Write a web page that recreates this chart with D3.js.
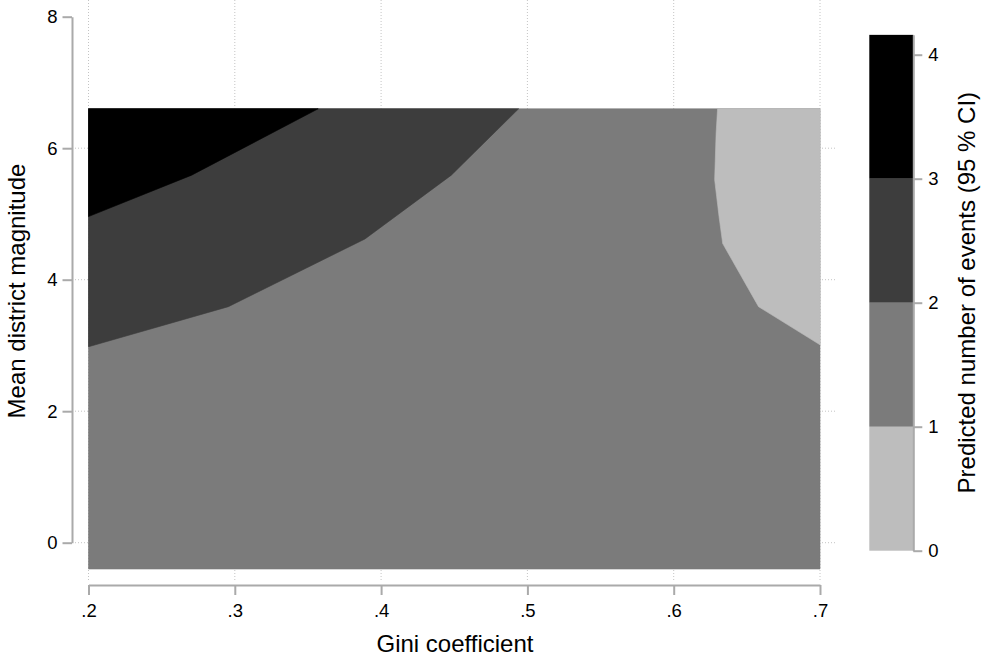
<!DOCTYPE html>
<html><head><meta charset="utf-8">
<script src="https://cdn.jsdelivr.net/npm/d3@7"></script>
<style>
body{margin:0;background:#fff}
text{font-family:"Liberation Sans",Arial,Helvetica,sans-serif;fill:#000}
</style>
</head><body>
<svg id="c" width="983" height="657"></svg>
<script>
// ---- data ----
const xTicks = [0.2, 0.3, 0.4, 0.5, 0.6, 0.7];
const xTickLabels = [".2", ".3", ".4", ".5", ".6", ".7"];
const yTicks = [0, 2, 4, 6, 8];
const yTickLabels = ["0", "2", "4", "6", "8"];
const yGrid = [0, 2, 4, 6];
const xExtent = [0.2, 0.7];
const yExtent = [-0.4, 6.6];
const levels = [0, 1, 2, 3, 4.16];
const levelTicks = [0, 1, 2, 3, 4];
const levelTickLabels = ["0", "1", "2", "3", "4"];
const levelColors = ["#bdbdbd", "#7b7b7b", "#3d3d3d", "#000000"];
// contour boundaries (gini, magnitude)
const contour1 = [[0.630, 6.6], [0.629, 6.23], [0.628, 5.52], [0.631, 4.96], [0.6335, 4.55], [0.658, 3.59], [0.7, 3.01]];
const contour2 = [[0.2, 2.98], [0.2956, 3.59], [0.389, 4.62], [0.448, 5.59], [0.494, 6.6]];
const contour3 = [[0.2, 4.96], [0.2705, 5.59], [0.357, 6.6]];
const xTitle = "Gini coefficient";
const yTitle = "Mean district magnitude";
const cTitle = "Predicted number of events (95 % CI)";

// ---- drawing ----
const svg = d3.select("#c");
const x = d3.scaleLinear().domain([0.2, 0.7]).range([88.5, 820]);
const y = d3.scaleLinear().domain([0, 8]).range([542.7, 16.7]);
const cs = d3.scaleLinear().domain([0, 4]).range([550.7, 54.7]);
const axisCol = "#aaaaaa";
const gridCol = "#c4c4c4";
const plotTop = 0, plotBottom = 582, plotLeft = 75, plotRight = 835;

// gridlines
svg.append("g").selectAll("line").data(xTicks).join("line")
  .attr("x1", d => x(d)).attr("x2", d => x(d))
  .attr("y1", plotTop).attr("y2", plotBottom)
  .attr("stroke", gridCol).attr("stroke-width", 1).attr("stroke-dasharray", "1,2");
svg.append("g").selectAll("line").data(yGrid).join("line")
  .attr("y1", d => y(d)).attr("y2", d => y(d))
  .attr("x1", plotLeft).attr("x2", plotRight)
  .attr("stroke", gridCol).attr("stroke-width", 1).attr("stroke-dasharray", "1,2");

// contour regions
const line = d3.line().x(d => x(d[0])).y(d => y(d[1]));
const rect = [[xExtent[0], yExtent[0]], [xExtent[1], yExtent[0]], [xExtent[1], yExtent[1]], [xExtent[0], yExtent[1]]];
const regions = [
  {pts: rect, col: levelColors[1]},
  {pts: contour1.concat([[xExtent[1], yExtent[1]]]), col: levelColors[0]},
  {pts: contour2.concat([[xExtent[0], yExtent[1]]]), col: levelColors[2]},
  {pts: contour3.concat([[xExtent[0], yExtent[1]]]), col: levelColors[3]}
];
svg.append("g").selectAll("path").data(regions).join("path")
  .attr("d", d => line(d.pts) + "Z").attr("fill", d => d.col)
  .attr("stroke", d => d.col).attr("stroke-width", 0.6);

// y axis
const ya = svg.append("g").attr("transform", "translate(72,0)")
  .call(d3.axisLeft(y).tickValues(yTicks).tickFormat((d, i) => yTickLabels[i])
    .tickSize(9.5).tickSizeOuter(0).tickPadding(5));
// x axis
const xa = svg.append("g").attr("transform", "translate(0,585)")
  .call(d3.axisBottom(x).tickValues(xTicks).tickFormat((d, i) => xTickLabels[i])
    .tickSize(10).tickSizeOuter(0).tickPadding(9));
// colorbar
const cb = svg.append("g");
const bands = d3.range(levelColors.length).map(i => ({lo: levels[i], hi: levels[i + 1], col: levelColors[i]}));
cb.selectAll("rect").data(bands).join("rect")
  .attr("x", 869.3).attr("width", 44)
  .attr("y", d => cs(d.hi)).attr("height", d => cs(d.lo) - cs(d.hi))
  .attr("fill", d => d.col);
const csFull = cs.copy().domain([0, levels[levels.length - 1]]).range([550.7, cs(levels[levels.length - 1])]);
const ca = svg.append("g").attr("transform", "translate(913.3,0)")
  .call(d3.axisRight(csFull).tickValues(levelTicks).tickFormat((d, i) => levelTickLabels[i])
    .tickSize(9).tickSizeOuter(0).tickPadding(6));

[ya, xa, ca].forEach(a => {
  a.attr("font-size", null).attr("font-family", null);
  a.selectAll("path.domain").attr("stroke", axisCol).attr("stroke-width", 2);
  a.selectAll(".tick line").attr("stroke", axisCol).attr("stroke-width", 2);
  a.selectAll(".tick text").style("font-size", "18.5px").attr("fill", "#000")
    .style("font-family", '"Liberation Sans",Arial,sans-serif');
});

// titles
svg.append("text").attr("x", 455).attr("y", 651.5).attr("text-anchor", "middle")
  .style("font-size", "24px").text(xTitle);
svg.append("text").attr("transform", "translate(25,291) rotate(-90)").attr("text-anchor", "middle")
  .style("font-size", "24px").text(yTitle);
svg.append("text").attr("transform", "translate(975,292.7) rotate(-90)").attr("text-anchor", "middle")
  .style("font-size", "24px").text(cTitle);
</script>
</body></html>
